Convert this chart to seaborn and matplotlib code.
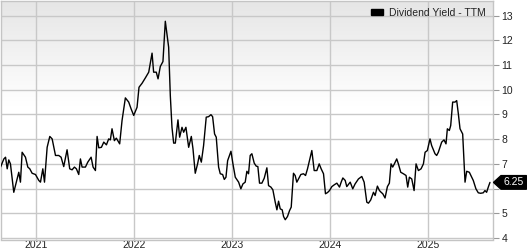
import numpy as np
import pandas as pd
import matplotlib
matplotlib.use("Agg")
import matplotlib.pyplot as plt
import matplotlib.transforms as mtransforms
from matplotlib.patches import Polygon, Patch
import seaborn as sns

# ---- data (decimal year, dividend yield %) ----
years = [
    2020.641, 2020.675, 2020.692, 2020.709, 2020.725, 2020.742, 2020.776, 2020.793, 2020.827, 2020.844,
    2020.861, 2020.895, 2020.919, 2020.939, 2020.963, 2020.997, 2021.031, 2021.048, 2021.072, 2021.089,
    2021.116, 2021.143, 2021.167, 2021.201, 2021.234, 2021.258, 2021.285, 2021.319, 2021.346, 2021.370,
    2021.394, 2021.414, 2021.438, 2021.455, 2021.472, 2021.506, 2021.530, 2021.564, 2021.584, 2021.608,
    2021.625, 2021.642, 2021.669, 2021.693, 2021.720, 2021.743, 2021.760, 2021.777, 2021.801, 2021.821,
    2021.855, 2021.879, 2021.913, 2021.947, 2021.971, 2021.998, 2022.032, 2022.052, 2022.083, 2022.117,
    2022.151, 2022.185, 2022.201, 2022.228, 2022.246, 2022.269, 2022.296, 2022.320, 2022.354, 2022.371,
    2022.388, 2022.405, 2022.422, 2022.449, 2022.466, 2022.490, 2022.507, 2022.530, 2022.558, 2022.585,
    2022.602, 2022.625, 2022.649, 2022.666, 2022.687, 2022.710, 2022.737, 2022.761, 2022.785, 2022.802,
    2022.822, 2022.839, 2022.863, 2022.880, 2022.904, 2022.921, 2022.938, 2022.955, 2022.989, 2023.009,
    2023.033, 2023.067, 2023.090, 2023.111, 2023.134, 2023.151, 2023.168, 2023.185, 2023.202, 2023.226,
    2023.246, 2023.263, 2023.280, 2023.304, 2023.328, 2023.355, 2023.372, 2023.396, 2023.416, 2023.440,
    2023.457, 2023.474, 2023.491, 2023.511, 2023.525, 2023.542, 2023.565, 2023.586, 2023.603, 2023.626,
    2023.643, 2023.660, 2023.677, 2023.701, 2023.728, 2023.749, 2023.769, 2023.789, 2023.813, 2023.837,
    2023.864, 2023.888, 2023.908, 2023.932, 2023.952, 2023.973, 2023.993, 2024.017, 2024.044, 2024.068,
    2024.095, 2024.112, 2024.129, 2024.153, 2024.169, 2024.204, 2024.230, 2024.254, 2024.288, 2024.322,
    2024.346, 2024.373, 2024.390, 2024.413, 2024.441, 2024.458, 2024.481, 2024.502, 2024.519, 2024.536,
    2024.559, 2024.583, 2024.603, 2024.620, 2024.637, 2024.654, 2024.678, 2024.695, 2024.719, 2024.746,
    2024.773, 2024.790, 2024.807, 2024.831, 2024.855, 2024.875, 2024.899, 2024.926, 2024.950, 2024.967,
    2024.990, 2025.017, 2025.034, 2025.068, 2025.085, 2025.102, 2025.136, 2025.160, 2025.180, 2025.194,
    2025.214, 2025.228, 2025.248, 2025.272, 2025.289, 2025.306, 2025.323, 2025.350, 2025.374, 2025.391,
    2025.418, 2025.442, 2025.458, 2025.485, 2025.509, 2025.533, 2025.560, 2025.577, 2025.594, 2025.611,
    2025.628,
]
dividend_yield = [
    6.87, 7.20, 7.27, 6.80, 7.16, 7.00, 5.85, 6.12, 6.66, 6.26,
    7.47, 7.27, 6.87, 6.80, 6.62, 6.57, 6.33, 6.26, 6.80, 6.26,
    7.67, 8.11, 8.01, 7.34, 7.34, 7.27, 6.89, 7.57, 6.80, 6.76,
    6.87, 6.80, 6.57, 7.20, 6.87, 6.87, 7.07, 7.27, 6.87, 6.73,
    8.11, 7.65, 7.67, 7.88, 7.77, 8.01, 7.97, 8.42, 7.94, 8.04,
    7.81, 8.75, 9.67, 9.50, 9.23, 8.96, 9.29, 10.10, 10.26, 10.48,
    10.71, 11.48, 10.71, 10.71, 10.44, 10.94, 11.14, 12.77, 11.72, 9.76,
    8.48, 7.84, 7.84, 8.78, 8.08, 8.48, 8.28, 8.48, 7.67, 8.11,
    7.61, 6.62, 7.00, 7.34, 7.07, 7.74, 8.89, 8.91, 8.99, 8.91,
    8.21, 8.08, 6.87, 6.60, 6.57, 6.37, 6.46, 7.13, 7.51, 7.00,
    6.46, 6.26, 5.99, 6.19, 6.26, 6.70, 6.60, 7.34, 7.41, 7.03,
    6.91, 6.89, 6.22, 6.22, 6.42, 6.84, 6.12, 6.06, 5.95, 5.45,
    5.14, 5.49, 5.18, 5.14, 4.87, 4.74, 4.87, 5.11, 5.25, 6.62,
    6.53, 6.26, 6.39, 6.57, 6.60, 6.53, 6.80, 7.13, 7.54, 6.73,
    6.73, 7.00, 6.80, 6.60, 5.79, 5.84, 5.92, 6.08, 6.16, 6.22,
    6.06, 6.26, 6.43, 6.33, 6.08, 6.26, 5.99, 6.19, 6.39, 6.49,
    6.26, 5.45, 5.41, 5.54, 5.85, 5.72, 6.10, 5.92, 5.85, 5.79,
    5.62, 6.08, 6.22, 7.00, 6.87, 7.00, 7.20, 7.00, 6.66, 6.60,
    6.53, 6.06, 6.46, 6.39, 5.92, 7.00, 6.73, 6.80, 7.00, 7.47,
    7.54, 8.01, 7.74, 7.41, 7.34, 7.47, 7.88, 7.97, 7.81, 8.42,
    8.35, 8.55, 9.50, 9.50, 9.56, 9.02, 8.42, 8.21, 6.26, 6.70,
    6.66, 6.46, 6.33, 5.99, 5.83, 5.81, 5.83, 5.92, 5.85, 6.06,
    6.25,
]
year_ticks = [2021, 2022, 2023, 2024, 2025]
yield_ticks = [4, 5, 6, 7, 8, 9, 10, 11, 12, 13]
series_name = "Dividend Yield - TTM"
last_value = 6.25
last_label = "6.25"

df = pd.DataFrame({"year": years, "yield": dividend_yield})

sns.set_theme(style="white")
plt.rcParams['font.family'] = ['Liberation Sans', 'DejaVu Sans']

W, H = 527, 250
fig = plt.figure(figsize=(W / 100, H / 100), dpi=100)
ax_left, ax_right, ax_top, ax_bot = 0.5, 493.0, 0.5, 239.5
ax = fig.add_axes([ax_left / W, 1 - ax_bot / H, (ax_right - ax_left) / W, (ax_bot - ax_top) / H])
ax.set_facecolor("white")

XMIN, XMAX, YMIN, YMAX = 2020.6407, 2025.659, 3.94, 13.61

sns.lineplot(data=df, x="year", y="yield", ax=ax, color="black", linewidth=1.0, zorder=3,
             legend=False, estimator=None, sort=False)

# background gradient (gray at top fading to white), drawn in data space
n = 256
f = np.linspace(1, 0, n)  # row 0 = top
start = 0.56
shade = np.where(f > start, 1 - (f - start) / (1 - start) * (1 - 0.90), 1.0)
grad = np.repeat(np.repeat(shade[:, None, None], 3, axis=2), 2, axis=1)
ax.imshow(grad, extent=[XMIN, XMAX, YMIN, YMAX], origin="upper", aspect="auto",
          zorder=0, interpolation="bilinear")
ax.set_xlim(XMIN, XMAX)
ax.set_ylim(YMIN, YMAX)

ax.set_xticks(year_ticks)
ax.set_xticklabels([str(y) for y in year_ticks])
ax.set_yticks(yield_ticks)
ax.set_yticklabels(["" if v == 6 else str(v) for v in yield_ticks])
ax.set_xlabel("")
ax.set_ylabel("")

ax.grid(True, color="#c8c8c8", linewidth=1.0, zorder=1)
ax.set_axisbelow(True)
for s in ax.spines.values():
    s.set_color("#c4c4c4")
    s.set_linewidth(1.0)
    s.set_visible(True)

ax.yaxis.tick_right()
ax.tick_params(axis="y", which="both", right=True, left=False, length=4, width=0.8,
               color="#999999", labelsize=7.5, pad=2, labelcolor="#222222")
ax.tick_params(axis="x", which="both", bottom=False, length=0, labelsize=7.5, pad=0.3,
               labelcolor="#222222")

# legend
handle = Patch(facecolor="black", edgecolor="black")
leg = ax.legend([handle], [series_name], loc="center right",
                bbox_to_anchor=(485 / (ax_right - ax_left), 1 - 12 / (ax_bot - ax_top)),
                frameon=False, fontsize=7.5, handlelength=1.2, handleheight=0.5,
                handletextpad=0.55, borderpad=0, borderaxespad=0)
for t in leg.get_texts():
    t.set_color("#222222")

# last value marker box
tr = mtransforms.blended_transform_factory(fig.transFigure, ax.transData)
hh = 6.8 / 24.72
tip_x, box_l, box_r = 493.5 / W, 501 / W, 526.5 / W
poly = Polygon([[tip_x, last_value], [box_l, last_value + hh], [box_r, last_value + hh],
                [box_r, last_value - hh], [box_l, last_value - hh]],
               closed=True, transform=tr, facecolor="black", edgecolor="black",
               clip_on=False, zorder=10)
fig.add_artist(poly)
fig.text(513.5 / W, last_value, last_label, transform=tr, color="white", fontsize=7.5,
         ha="center", va="center", zorder=11)

fig.savefig("out.png", dpi=100)
